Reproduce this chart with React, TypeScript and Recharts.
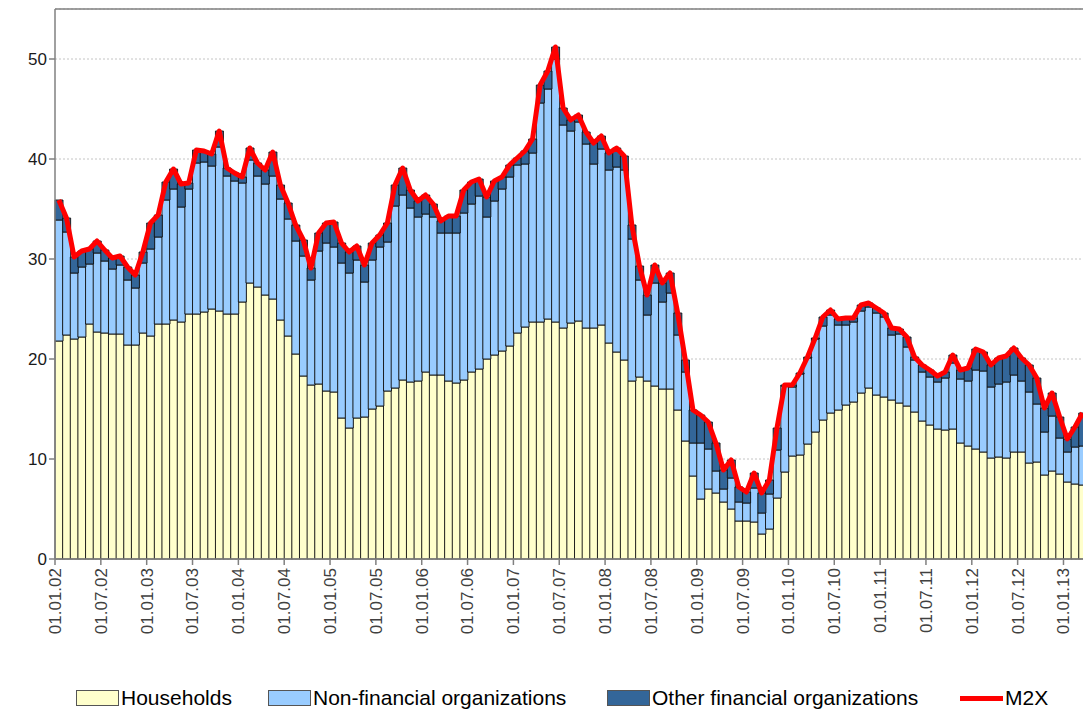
import React from "react";
import {
  ComposedChart,
  Bar,
  Line,
  XAxis,
  YAxis,
  CartesianGrid,
  ReferenceLine,
} from "recharts";

// monthly dates 01.01.02 .. 01.03.13
const years = ["02", "03", "04", "05", "06", "07", "08", "09", "10", "11", "12", "13"];
const monthCodes = ["01", "02", "03", "04", "05", "06", "07", "08", "09", "10", "11", "12"];
const categories: string[] = [];
years.forEach((y) => monthCodes.forEach((m) => categories.push(`01.${m}.${y}`)));
const dates = categories.slice(0, 135);

const households = [
  21.8, 22.4, 22.0, 22.2, 23.5, 22.7, 22.6, 22.5, 22.5, 21.4, 21.4, 22.6,
  22.3, 23.5, 23.5, 23.9, 23.7, 24.5, 24.5, 24.7, 25.0, 24.8, 24.5, 24.5,
  25.7, 27.6, 27.2, 26.4, 26.0, 23.9, 22.3, 20.5, 18.3, 17.4, 17.5, 16.8,
  16.7, 14.1, 13.1, 14.1, 14.2, 15.0, 15.3, 16.8, 17.1, 17.9, 17.7, 17.8,
  18.7, 18.4, 18.4, 17.8, 17.6, 17.9, 18.7, 19.0, 20.0, 20.4, 20.8, 21.3,
  22.6, 23.2, 23.7, 23.7, 24.0, 23.7, 23.1, 23.6, 23.8, 23.1, 23.1, 23.4,
  21.6, 20.7, 19.9, 17.8, 18.2, 17.8, 17.3, 17.0, 17.0, 14.9, 11.8, 8.3,
  6.0, 7.0, 6.6, 5.7, 5.0, 3.8, 3.8, 3.7, 2.5, 3.0, 6.1, 8.7,
  10.3, 10.4, 11.5, 12.7, 13.9, 14.6, 14.9, 15.4, 15.7, 16.6, 17.1, 16.4,
  16.2, 15.9, 15.6, 15.3, 14.7, 13.8, 13.4, 13.0, 12.9, 13.0, 11.6, 11.3,
  11.0, 10.7, 10.1, 10.2, 10.1, 10.7, 10.7, 9.6, 9.7, 8.4, 8.8, 8.5,
  7.7, 7.5, 7.4,
];

const nonFinancial = [
  12.1, 10.3, 6.6, 7.0, 6.0, 7.9, 7.2, 6.5, 6.9, 6.5, 5.7, 7.0,
  8.7, 8.7, 12.4, 13.1, 11.5, 12.5, 15.1, 15.0, 14.3, 16.4, 13.8, 13.3,
  11.9, 12.3, 11.1, 11.1, 12.3, 12.1, 11.7, 11.3, 12.0, 10.5, 13.3, 14.8,
  14.5, 15.5, 15.5, 15.8, 13.5, 14.9, 15.9, 14.9, 18.2, 18.5, 17.4, 16.4,
  15.8, 15.8, 14.2, 14.8, 15.0, 16.7, 16.8, 17.3, 14.2, 15.4, 16.2, 16.9,
  16.8, 16.3, 16.9, 21.9, 23.0, 26.3, 20.3, 19.2, 19.9, 18.4, 16.4, 17.6,
  17.3, 18.5, 19.0, 14.2, 9.7, 6.6, 10.3, 8.7, 9.6, 7.5, 6.9, 3.3,
  5.6, 4.0, 2.2, 1.3, 3.1, 1.9, 1.8, 3.4, 2.1, 3.5, 4.8, 8.6,
  6.9, 8.1, 8.6, 9.3, 9.4, 9.8, 8.5, 8.0, 8.0, 8.2, 8.1, 8.2,
  8.0, 6.5, 6.9, 5.9, 5.2, 4.9, 4.8, 4.7, 5.2, 6.6, 6.4, 6.5,
  7.9, 8.1, 7.1, 7.3, 7.6, 7.7, 7.1, 7.1, 5.8, 4.3, 5.5, 3.6,
  3.0, 3.7, 3.9,
];

const otherFinancial = [
  2.0, 1.4, 1.6, 1.6, 1.5, 1.2, 1.1, 1.1, 0.9, 1.3, 1.3, 1.1,
  2.6, 2.2, 1.8, 2.0, 2.3, 0.6, 1.3, 1.1, 1.2, 1.6, 0.8, 0.8,
  0.6, 1.2, 1.3, 1.4, 2.4, 1.4, 1.6, 1.6, 1.6, 1.2, 1.8, 2.0,
  2.5, 2.0, 2.1, 1.4, 1.7, 1.7, 1.2, 1.9, 2.1, 2.7, 1.8, 1.6,
  1.9, 1.3, 1.2, 1.7, 1.7, 2.3, 2.2, 1.7, 2.0, 2.0, 1.2, 1.2,
  0.7, 1.3, 1.4, 1.8, 1.8, 1.2, 1.7, 1.1, 0.7, 1.2, 2.1, 1.3,
  1.7, 1.9, 1.4, 1.4, 1.4, 2.0, 1.8, 1.9, 2.0, 2.2, 1.2, 3.3,
  2.8, 2.7, 2.8, 1.9, 1.8, 1.5, 1.1, 1.5, 2.0, 1.4, 2.2, 0.1,
  0.2, 0.1, 0.1, 0.1, 0.9, 0.5, 0.6, 0.7, 0.4, 0.6, 0.4, 0.5,
  0.4, 0.7, 0.5, 1.0, 0.3, 0.7, 0.7, 0.6, 0.6, 0.8, 0.9, 1.3,
  2.1, 1.9, 2.2, 2.6, 2.6, 2.7, 2.3, 2.7, 2.6, 2.4, 2.3, 2.1,
  1.3, 2.0, 3.3,
];

const m2x = [
  35.9, 34.1, 30.2, 30.8, 31.0, 31.8, 30.9, 30.1, 30.3, 29.2, 28.4, 30.7,
  33.6, 34.4, 37.7, 39.0, 37.5, 37.6, 40.9, 40.8, 40.5, 42.8, 39.1, 38.6,
  38.2, 41.1, 39.6, 38.9, 40.7, 37.4, 35.6, 33.4, 31.9, 29.1, 32.6, 33.6,
  33.7, 31.6, 30.7, 31.3, 29.4, 31.6, 32.4, 33.6, 37.4, 39.1, 36.9, 35.8,
  36.4, 35.5, 33.8, 34.3, 34.3, 36.9, 37.7, 38.0, 36.2, 37.8, 38.2, 39.4,
  40.1, 40.8, 42.0, 47.4, 48.8, 51.2, 45.1, 43.9, 44.4, 42.7, 41.6, 42.3,
  40.6, 41.1, 40.3, 33.4, 29.3, 26.4, 29.4, 27.6, 28.6, 24.6, 19.9, 14.9,
  14.4, 13.7, 11.6, 8.9, 9.9, 7.2, 6.7, 8.6, 6.6, 7.9, 13.1, 17.4,
  17.4, 18.6, 20.2, 22.1, 24.2, 24.9, 24.0, 24.1, 24.1, 25.4, 25.6, 25.1,
  24.6, 23.1, 23.0, 22.2, 20.2, 19.4, 18.9, 18.3, 18.7, 20.4, 18.9, 19.1,
  21.0, 20.7, 19.4, 20.1, 20.3, 21.1, 20.1, 19.4, 18.1, 15.1, 16.6, 14.2,
  12.0, 13.2, 14.6,
];

const yTicks = [0, 10, 20, 30, 40, 50];

const data = dates.map((d, i) => ({
  date: d,
  households: households[i],
  nonFinancial: nonFinancial[i],
  otherFinancial: otherFinancial[i],
  m2x: m2x[i],
}));

const FONT = "'Liberation Sans', Arial, sans-serif";
const BAND = 7.64;
const PLOT_BOTTOM = 559;

const DateTick = (props: any) => {
  const { x, payload } = props;
  const x0 = x - BAND / 2;
  const ty = PLOT_BOTTOM + 9;
  return (
    <g>
      <line x1={x0} y1={PLOT_BOTTOM} x2={x0} y2={PLOT_BOTTOM + 6} stroke="#808080" strokeWidth={1.5} />
      <text
        x={x0}
        y={ty}
        dy="0.35em"
        transform={`rotate(-90 ${x0} ${ty})`}
        textAnchor="end"
        fontSize={17}
        fontFamily={FONT}
        fill="#404040"
      >
        {payload.value}
      </text>
    </g>
  );
};

const legendItems = [
  { name: "Households", color: "#FFFFCC", left: 76, kind: "box" },
  { name: "Non-financial organizations", color: "#99CCFF", left: 268, kind: "box" },
  { name: "Other financial organizations", color: "#336699", left: 607, kind: "box" },
  { name: "M2X", color: "#FF0000", left: 960, kind: "line" },
];

const App = () => {
  return (
    <div
      style={{
        position: "absolute",
        left: 0,
        top: 0,
        width: 1083,
        height: 713,
        overflow: "hidden",
        background: "#fff",
        fontFamily: FONT,
      }}
    >
      <ComposedChart
        width={1088}
        height={713}
        data={data}
        margin={{ top: 9, right: 1.6, left: 10, bottom: 0 }}
        barCategoryGap={0}
        barGap={0}
      >
        <CartesianGrid vertical={false} stroke="#c4c4c4" strokeDasharray="2 2" />
        <XAxis
          dataKey="date"
          interval={5}
          height={154}
          tickLine={false}
          axisLine={{ stroke: "#808080", strokeWidth: 1.5 }}
          tick={<DateTick />}
        />
        <YAxis
          domain={[0, 55]}
          ticks={yTicks}
          width={45}
          tickSize={6}
          tickLine={{ stroke: "#808080", strokeWidth: 1.5 }}
          axisLine={{ stroke: "#808080", strokeWidth: 1.5 }}
          tick={{ fontSize: 17, fill: "#1a1a1a", fontFamily: FONT }}
        />
        <ReferenceLine y={55} stroke="#808080" strokeWidth={1.5} />
        <Bar dataKey="households" stackId="a" fill="#FFFFCC" stroke="#111" strokeWidth={0.9} isAnimationActive={false} />
        <Bar dataKey="nonFinancial" stackId="a" fill="#99CCFF" stroke="#111" strokeWidth={0.9} isAnimationActive={false} />
        <Bar dataKey="otherFinancial" stackId="a" fill="#336699" stroke="#111" strokeWidth={0.9} isAnimationActive={false} />
        <Line
          dataKey="m2x"
          type="linear"
          stroke="#FF0000"
          strokeWidth={5}
          strokeLinejoin="round"
          dot={false}
          isAnimationActive={false}
        />
      </ComposedChart>
      {legendItems.map((it) => (
        <div
          key={it.name}
          style={{
            position: "absolute",
            left: it.left,
            top: 686,
            height: 24,
            display: "flex",
            alignItems: "center",
            fontSize: 21,
            color: "#000",
            whiteSpace: "nowrap",
          }}
        >
          {it.kind === "box" ? (
            <span
              style={{
                display: "inline-block",
                width: 41,
                height: 14,
                background: it.color,
                border: "1px solid #555",
                marginRight: 2,
              }}
            />
          ) : (
            <span
              style={{
                display: "inline-block",
                width: 43,
                height: 5,
                background: it.color,
                marginRight: 2,
              }}
            />
          )}
          <span>{it.name}</span>
        </div>
      ))}
    </div>
  );
};

export default App;
